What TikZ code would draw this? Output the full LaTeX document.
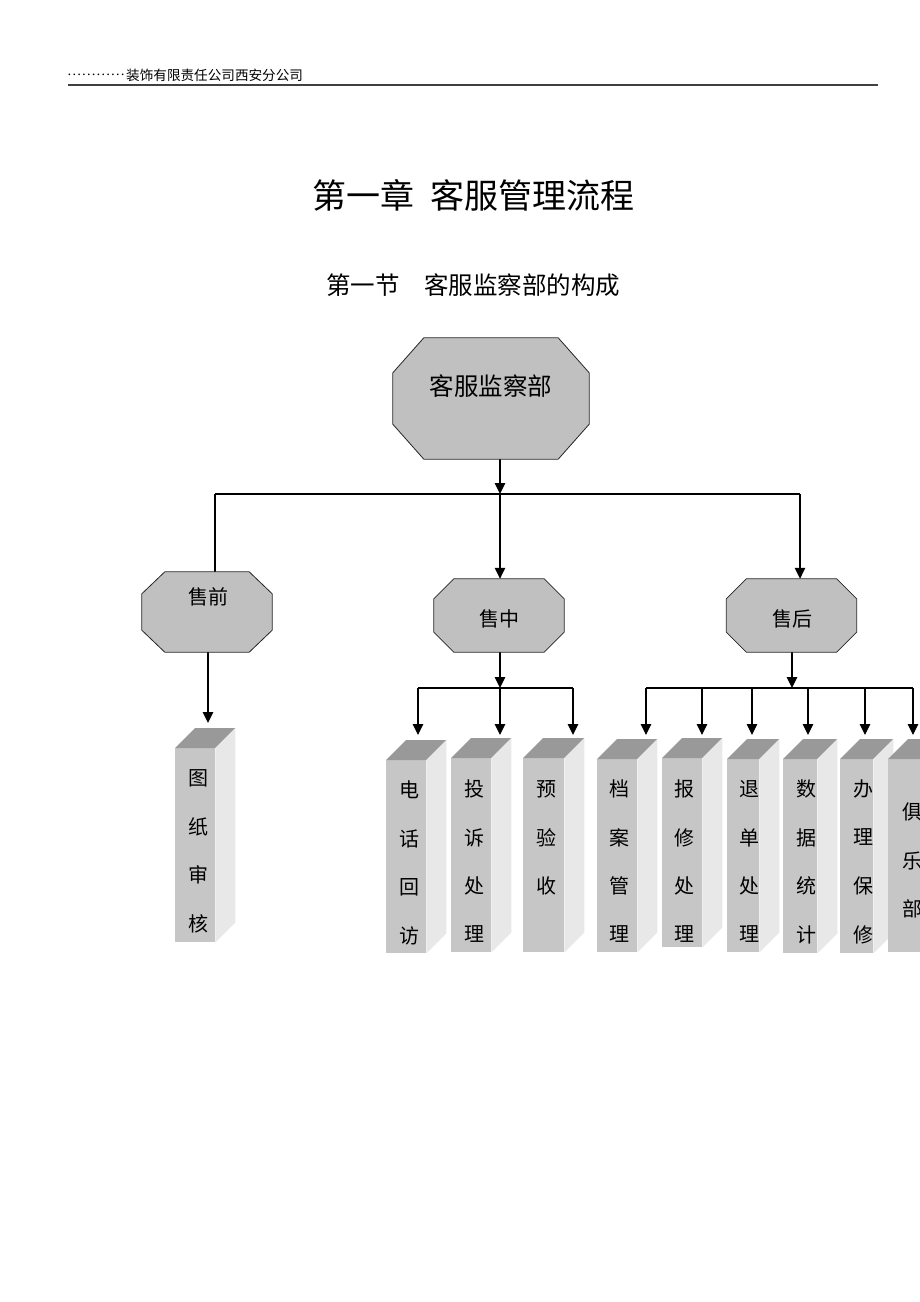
\documentclass[tikz,border=0pt]{standalone}
\usepackage{fontspec}
\newfontfamily\cjk{Noto Sans CJK SC}
\newfontfamily\dotfont{Liberation Serif}
\usetikzlibrary{arrows.meta,backgrounds,calc}
\definecolor{octgray}{HTML}{C0C0C0}
\definecolor{frontc}{HTML}{C6C6C6}
\definecolor{topc}{HTML}{999999}
\definecolor{sidec}{HTML}{E8E8E8}
\def\bdepth{20}
\newcommand{\mybox}[8]{%
  \node[front, minimum width=#4pt, minimum height=#5pt] (#1) at (#2,#3) {};
  \fill[topc] (#1.north west) -- ++(\bdepth,-\bdepth) -- ($(#1.north east)+(\bdepth,-\bdepth)$) -- (#1.north east) -- cycle;
  \fill[sidec] (#1.north east) -- ++(\bdepth,-\bdepth) -- ($(#1.south east)+(\bdepth,-\bdepth)$) -- (#1.south east) -- cycle;
  \foreach \mych [count=\i from 0] in {#8} \node[chr] (#1-\i) at (#6, #7+48.5*\i) {\mych};
}
\newcommand{\octa}[7]{%
  \node[inner sep=0pt, minimum width=#4pt, minimum height=#5pt] (#1) at (#2,#3) {};
  \draw[octs] ($(#1.north west)+(#6,0)$) -- ($(#1.north east)+(-#6,0)$) -- ($(#1.north east)+(0,#7)$) -- ($(#1.south east)+(0,-#7)$) -- ($(#1.south east)+(-#6,0)$) -- ($(#1.south west)+(#6,0)$) -- ($(#1.south west)+(0,-#7)$) -- ($(#1.north west)+(0,#7)$) -- cycle;
}
\begin{document}
\begin{tikzpicture}[x=1pt,y=-1pt,
  octs/.style={draw=black!85, line width=0.8pt, fill=octgray, line join=miter},
  arr/.style={-{Triangle[length=11pt,width=10.5pt]}, line width=1.4pt},
  ln/.style={line width=1.4pt},
  front/.style={fill=frontc, inner sep=0pt, anchor=north west},
  chr/.style={font=\cjk\fontsize{20}{20}\selectfont, inner sep=0pt},
  lbl/.style={font=\cjk\fontsize{20}{20}\selectfont, inner sep=0pt}]
\clip (0,0) rectangle (920,1302);
% header
\node[anchor=west, inner sep=0pt, font=\dotfont\fontsize{14.5}{14.5}\selectfont] (hdots) at (67,75) {…………};
\node[anchor=west, inner sep=0pt, font=\cjk\fontsize{13.6}{13.6}\selectfont] (htext) at (126,75) {装饰有限责任公司西安分公司};
\coordinate (hl1) at (68,85);
\coordinate (hl2) at (878,85);
\draw[line width=1.4pt, black!75] (hl1) -- (hl2);
% titles
\node[inner sep=0pt, font=\cjk\fontsize{34}{34}\selectfont] (title) at (473.5,195) {第一章\hspace{0.45em}客服管理流程};
\node[inner sep=0pt, font=\cjk\fontsize{24.5}{24.5}\selectfont] (sub) at (473,285) {第一节　客服监察部的构成};
% octagons
\octa{top}{491}{398.5}{196}{121}{31}{35}
\node[inner sep=0pt, font=\cjk\fontsize{24.5}{24.5}\selectfont] (topt) at (491,386) {客服监察部};
\octa{pre}{207}{612}{130}{80}{23}{22}
\node[lbl] (pret) at (208,597) {售前};
\octa{mid}{499}{615.5}{130}{73}{20}{20}
\node[lbl] (midt) at (499,619) {售中};
\octa{post}{791.5}{615.5}{130}{73}{20}{20}
\node[lbl] (postt) at (792,619) {售后};
% boxes
\mybox{b1}{175}{748}{40}{194}{198}{778}{图,纸,审,核}
\mybox{b2}{386}{760}{40}{193}{409}{790}{电,话,回,访}
\mybox{b3}{451}{758}{40}{194}{474}{789}{投,诉,处,理}
\mybox{b4}{523}{758}{41}{194}{546}{789}{预,验,收}
\mybox{b5}{597}{759}{40}{193}{619}{789}{档,案,管,理}
\mybox{b6}{662}{758}{40}{189}{684}{789}{报,修,处,理}
\mybox{b7}{727}{759}{32}{193}{749}{789}{退,单,处,理}
\mybox{b8}{783}{759}{34}{194}{806}{789}{数,据,统,计}
\mybox{b9}{840}{759}{33}{194}{863}{789}{办,理,保,修}
\mybox{b10}{888}{759}{42}{193}{912}{812}{俱,乐,部}
% connector coordinates
\coordinate (j1) at (500,494);
\coordinate (j1l) at (215,494);
\coordinate (j1r) at (800,494);
\coordinate (prein) at (215,583);
\coordinate (j2) at (500,688);
\coordinate (j2l) at (418,688);
\coordinate (j2r) at (573,688);
\coordinate (j3) at (792,688);
\coordinate (j3a) at (646,688);
\coordinate (j3b) at (702,688);
\coordinate (j3c) at (752,688);
\coordinate (j3d) at (808,688);
\coordinate (j3e) at (865,688);
\coordinate (j3f) at (913,688);
\coordinate (t1) at (208,723);
\coordinate (t2) at (418,735);
\coordinate (t3) at (500,735);
\coordinate (t4) at (573,735);
\coordinate (t5) at (646,735);
\coordinate (t6) at (702,735);
\coordinate (t7) at (752,735);
\coordinate (t8) at (808,735);
\coordinate (t9) at (865,735);
\coordinate (t10) at (913,735);
\begin{pgfonlayer}{background}
\draw[arr] (top.south -| j1) -- (j1);
\draw[ln] (j1l) -- (j1r);
\draw[arr] (j1l) -- (prein);
\draw[arr] (j1) -- (mid.north -| j1);
\draw[arr] (j1r) -- (post.north -| j1r);
\draw[arr] (pre.south -| t1) -- (t1);
\draw[arr] (mid.south -| j2) -- (j2);
\draw[ln] (j2l) -- (j2r);
\draw[arr] (j2l) -- (t2);
\draw[arr] (j2) -- (t3);
\draw[arr] (j2r) -- (t4);
\draw[arr] (post.south -| j3) -- (j3);
\draw[ln] (j3a) -- (j3f);
\draw[arr] (j3a) -- (t5);
\draw[arr] (j3b) -- (t6);
\draw[arr] (j3c) -- (t7);
\draw[arr] (j3d) -- (t8);
\draw[arr] (j3e) -- (t9);
\draw[arr] (j3f) -- (t10);
\end{pgfonlayer}
\end{tikzpicture}
\end{document}
